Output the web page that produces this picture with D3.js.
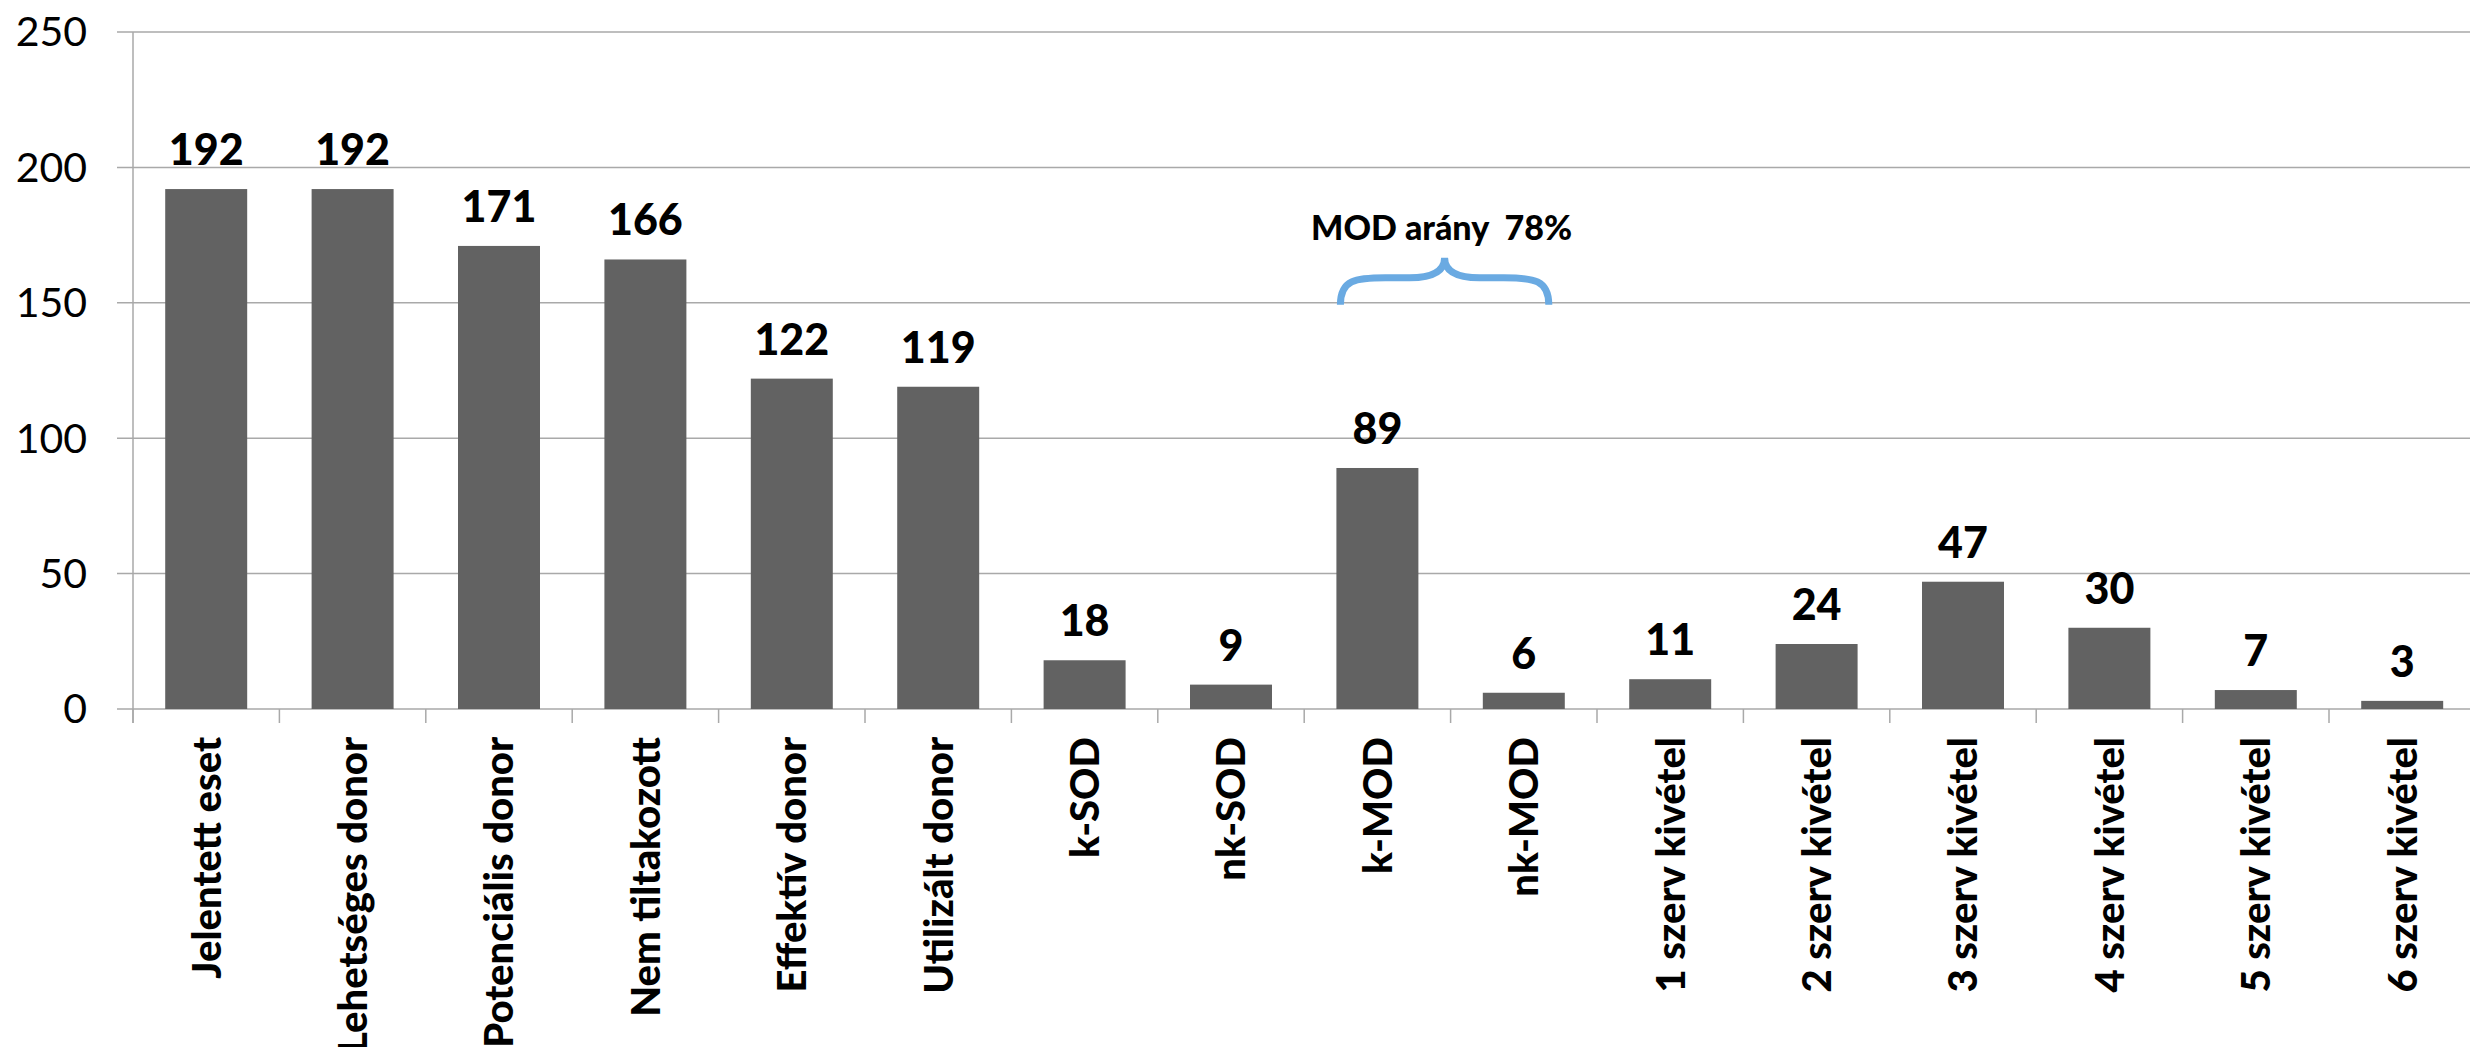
<!DOCTYPE html>
<html>
<head>
<meta charset="utf-8">
<script src="https://cdn.jsdelivr.net/npm/d3@7/dist/d3.min.js"></script>
<style>
  html, body { margin: 0; padding: 0; background: #ffffff; }
  svg { display: block; }
  text { font-family: Lato, "Open Sans", sans-serif; }
</style>
</head>
<body>
<svg id="chart" width="2470" height="1047"></svg>
<script>
const categories = ["Jelentett eset", "Lehetséges donor", "Potenciális donor", "Nem tiltakozott",
  "Effektív donor", "Utilizált donor", "k-SOD", "nk-SOD", "k-MOD", "nk-MOD",
  "1 szerv kivétel", "2 szerv kivétel", "3 szerv kivétel", "4 szerv kivétel",
  "5 szerv kivétel", "6 szerv kivétel"];
const values = [192, 192, 171, 166, 122, 119, 18, 9, 89, 6, 11, 24, 47, 30, 7, 3];
const yTicks = [0, 50, 100, 150, 200, 250];
const annotationText = "MOD arány\u00a0\u00a078%";
const annotationFrom = "k-MOD", annotationTo = "nk-MOD";

const W = 2470, H = 1047;
const margin = { left: 133, top: 32, right: 0, bottom: 338 };
const svg = d3.select("#chart");

const x = d3.scaleBand().domain(categories)
  .range([margin.left, margin.left + 16 * 146.4])
  .paddingInner(0.44).paddingOuter(0.22);
const y = d3.scaleLinear().domain([0, 250]).range([709, 32]);

const gridColor = "#a9a9a9";

// gridlines
svg.append("g").selectAll("line").data(yTicks).join("line")
  .attr("x1", margin.left - 16).attr("x2", W)
  .attr("y1", d => y(d)).attr("y2", d => y(d))
  .attr("stroke", gridColor).attr("stroke-width", 1.5);

// y axis line
svg.append("line")
  .attr("x1", margin.left).attr("x2", margin.left)
  .attr("y1", y(250)).attr("y2", y(0) + 14)
  .attr("stroke", gridColor).attr("stroke-width", 1.5);

// x ticks at band boundaries
const step = x.step();
const boundaries = d3.range(categories.length + 1).map(i => margin.left + i * step);
svg.append("g").selectAll("line").data(boundaries).join("line")
  .attr("x1", d => d).attr("x2", d => d)
  .attr("y1", y(0)).attr("y2", y(0) + 14)
  .attr("stroke", gridColor).attr("stroke-width", 1.5);

// y tick labels
svg.append("g").selectAll("text").data(yTicks).join("text")
  .attr("x", 87).attr("y", d => y(d)).attr("dy", "0.35em")
  .attr("text-anchor", "end")
  .attr("font-size", 41).attr("fill", "#000")
  .text(d => d);

// bars
svg.append("g").selectAll("rect").data(values).join("rect")
  .attr("x", (d, i) => x(categories[i]))
  .attr("width", x.bandwidth())
  .attr("y", d => y(d))
  .attr("height", d => y(0) - y(d))
  .attr("fill", "#626262");

// value labels
svg.append("g").selectAll("text").data(values).join("text")
  .attr("x", (d, i) => x(categories[i]) + x.bandwidth() / 2)
  .attr("y", d => y(d) - 24)
  .attr("text-anchor", "middle")
  .attr("font-size", 43).attr("font-weight", "900").attr("fill", "#000")
  .text(d => d);

// category labels
svg.append("g").selectAll("text").data(categories).join("text")
  .attr("transform", d => `translate(${x(d) + x.bandwidth() / 2},737) rotate(-90)`)
  .attr("dy", "0.36em")
  .attr("text-anchor", "end")
  .attr("font-size", 40).attr("font-weight", "900").attr("fill", "#000")
  .text(d => d);

// brace annotation
const L = x(annotationFrom) + x.bandwidth() / 2 - 37;
const R = x(annotationTo) + x.bandwidth() / 2 + 25;
const M = (L + R) / 2;
const yb = y(150) + 2, ym = y(150) - 25, yt = y(150) - 45;
const brace = `M${L},${yb} C${L},${ym + 2} ${L + 15},${ym} ${L + 45},${ym}
  L${M - 35},${ym} C${M - 12},${ym} ${M},${ym - 6} ${M},${yt}
  C${M},${ym - 6} ${M + 12},${ym} ${M + 35},${ym}
  L${R - 45},${ym} C${R - 15},${ym} ${R},${ym + 2} ${R},${yb}`;
svg.append("path").attr("d", brace)
  .attr("fill", "none").attr("stroke", "#6aaae2").attr("stroke-width", 7)
  .attr("stroke-linecap", "butt");

svg.append("text")
  .attr("x", M - 3).attr("y", y(150) - 63)
  .attr("text-anchor", "middle")
  .attr("font-size", 34).attr("font-weight", "900").attr("fill", "#000")
  .text(annotationText);
</script>
</body>
</html>
